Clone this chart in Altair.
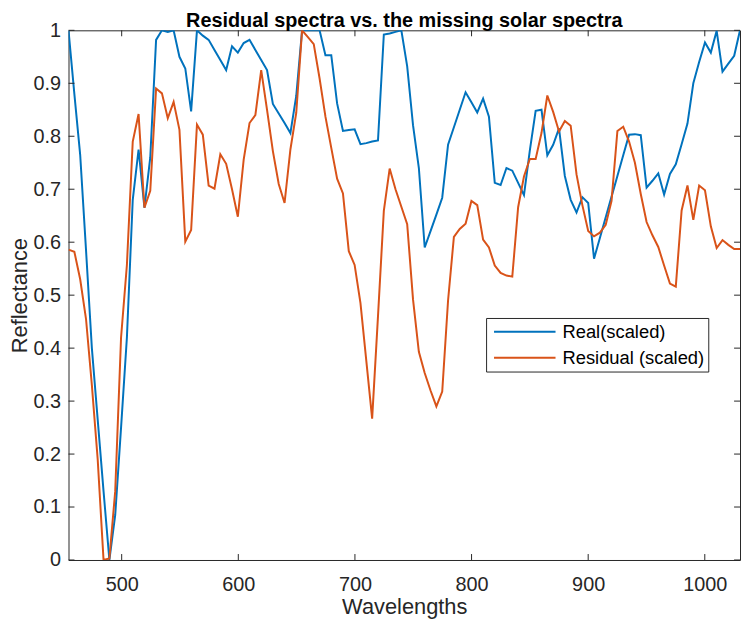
import altair as alt
import pandas as pd

# ---- data ----
wavelengths = [round(454.4 + i * 5.007, 2) for i in range(116)]

real_scaled = [
    1.0, 0.88, 0.765, 0.585, 0.40, 0.265, 0.13, 0.0, 0.085, 0.25,
    0.42, 0.68, 0.775, 0.665, 0.76, 0.982, 1.0, 0.997, 1.0, 0.95,
    0.928, 0.847, 1.0, 0.99, 0.982, 0.963, 0.944, 0.925, 0.97, 0.958,
    0.976, 0.982, 0.963, 0.944, 0.925, 0.861, 0.843, 0.825, 0.806, 0.876,
    1.0, 1.0, 1.0, 1.0, 0.953, 0.953, 0.862, 0.81, 0.812, 0.813,
    0.785, 0.787, 0.79, 0.792, 0.992, 0.994, 0.997, 1.0, 0.932, 0.821,
    0.74, 0.59, 0.621, 0.652, 0.684, 0.784, 0.817, 0.85, 0.883, 0.864,
    0.845, 0.871, 0.837, 0.712, 0.708, 0.74, 0.735, 0.712, 0.689, 0.773,
    0.848, 0.85, 0.764, 0.784, 0.815, 0.725, 0.68, 0.656, 0.685, 0.674,
    0.569, 0.608, 0.647, 0.686, 0.725, 0.764, 0.803, 0.804, 0.802, 0.703,
    0.716, 0.73, 0.69, 0.729, 0.747, 0.785, 0.824, 0.90, 0.94, 0.977,
    0.958, 0.999, 0.922, 0.937, 0.952, 1.0,
]

residual_scaled = [
    0.586, 0.582, 0.53, 0.455, 0.33, 0.19, 0.0, 0.003, 0.13, 0.42,
    0.557, 0.79, 0.842, 0.665, 0.697, 0.89, 0.881, 0.834, 0.865, 0.812,
    0.601, 0.623, 0.822, 0.803, 0.707, 0.701, 0.766, 0.748, 0.70, 0.648,
    0.756, 0.825, 0.84, 0.925, 0.85, 0.772, 0.71, 0.674, 0.775, 0.844,
    1.0, 0.987, 0.974, 0.909, 0.837, 0.778, 0.72, 0.692, 0.583, 0.557,
    0.485, 0.376, 0.267, 0.46, 0.659, 0.739, 0.70, 0.667, 0.634, 0.492,
    0.393, 0.353, 0.32, 0.29, 0.318, 0.49, 0.61, 0.625, 0.635, 0.678,
    0.67, 0.605, 0.59, 0.556, 0.542, 0.537, 0.535, 0.666, 0.724, 0.757,
    0.757, 0.806, 0.877, 0.846, 0.809, 0.829, 0.82, 0.728, 0.67, 0.621,
    0.611, 0.618, 0.633, 0.678, 0.81, 0.818, 0.79, 0.75, 0.691, 0.638,
    0.613, 0.591, 0.556, 0.522, 0.516, 0.66, 0.707, 0.642, 0.707, 0.698,
    0.63, 0.589, 0.604, 0.595, 0.587, 0.587,
]

series_names = ["Real(scaled)", "Residual (scaled)"]
series_colors = ["#0072BD", "#D95319"]
x_ticks = [500, 600, 700, 800, 900, 1000]
y_ticks = [0, 0.1, 0.2, 0.3, 0.4, 0.5, 0.6, 0.7, 0.8, 0.9, 1.0]

# ---- build table ----
rows = []
for name, vals in zip(series_names, [real_scaled, residual_scaled]):
    for w, v in zip(wavelengths, vals):
        rows.append({"wavelength": w, "value": v, "series": name})
df = pd.DataFrame(rows)

W, H = 677, 534
FONT = "Liberation Sans"
AX = "#262626"

x_scale = alt.Scale(domain=[454.4, 1030.2], nice=False, zero=False)
y_scale = alt.Scale(domain=[0, 1], nice=False, zero=False)

lines = alt.Chart(df).mark_line(strokeWidth=2, clip=True).encode(
    x=alt.X(
        "wavelength:Q",
        scale=x_scale,
        axis=alt.Axis(
            values=x_ticks, format="d", title="Wavelengths", orient="bottom",
            ticks=False, tickSize=0, domain=False, grid=False,
            labelFontSize=20, labelPadding=15,
            titleFontSize=22, titleX=W / 2, titleY=54,
            titleBaseline="alphabetic",
        ),
    ),
    y=alt.Y(
        "value:Q",
        scale=y_scale,
        axis=alt.Axis(
            values=y_ticks, format=".1~f", title="Reflectance", orient="left",
            ticks=False, tickSize=0, domain=False, grid=False,
            labelFontSize=20, labelPadding=8,
            titleFontSize=22, titleX=-42, titleY=H / 2,
            titleAngle=270, titleBaseline="alphabetic",
        ),
    ),
    color=alt.Color(
        "series:N",
        scale=alt.Scale(domain=series_names, range=series_colors),
        legend=alt.Legend(
            title=None, orient="none", legendX=421, legendY=290,
            symbolType="stroke", symbolSize=3844, symbolStrokeWidth=2,
            clipHeight=20, rowPadding=6, padding=4, symbolOffset=3,
            labelOffset=6, labelFontSize=18.5, labelFont=FONT,
            labelColor="#000000", labelLimit=300,
            strokeColor=AX, fillColor="white", cornerRadius=0,
        ),
    ),
)

xt = pd.DataFrame({"t": x_ticks})
yt = pd.DataFrame({"t": y_ticks})

bottom_ticks = alt.Chart(xt).mark_rule(color=AX, strokeWidth=1).encode(
    x=alt.X("t:Q", scale=x_scale),
    y=alt.value(H), y2=alt.value(H - 6),
)
top_ticks = alt.Chart(xt).mark_rule(color=AX, strokeWidth=1).encode(
    x=alt.X("t:Q", scale=x_scale),
    y=alt.value(0), y2=alt.value(6),
)
left_ticks = alt.Chart(yt).mark_rule(color=AX, strokeWidth=1).encode(
    y=alt.Y("t:Q", scale=y_scale),
    x=alt.value(0), x2=alt.value(6),
)
right_ticks = alt.Chart(yt).mark_rule(color=AX, strokeWidth=1).encode(
    y=alt.Y("t:Q", scale=y_scale),
    x=alt.value(W), x2=alt.value(W - 6),
)

chart = (
    alt.layer(lines, bottom_ticks, top_ticks, left_ticks, right_ticks)
    .properties(
        width=W,
        height=H,
        title=alt.TitleParams(
            "Residual spectra vs. the missing solar spectra",
            font=FONT, fontSize=20, fontWeight="bold", color="#000000",
            anchor="middle", frame="group", orient="top",
            offset=0, baseline="alphabetic", dy=27,
        ),
        padding={"left": 61, "top": 20, "right": 2, "bottom": 60},
        autosize=alt.AutoSizeParams(type="none"),
        background="white",
    )
    .configure_view(stroke=AX, strokeWidth=1)
    .configure_axis(
        labelFont=FONT, titleFont=FONT, labelColor=AX, titleColor=AX,
        titleFontWeight="normal",
    )
)

chart.save("out.html", embed_options={"renderer": "svg", "actions": False})
